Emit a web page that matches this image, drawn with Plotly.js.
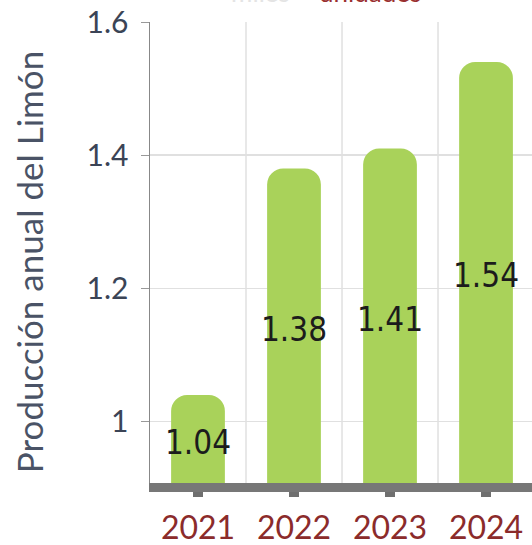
<!DOCTYPE html>
<html>
<head>
<meta charset="utf-8">
<script src="https://cdn.plot.ly/plotly-3.0.1.min.js"></script>
<style>
html,body{margin:0;padding:0;overflow:hidden;background:#fff;}
#chart{width:532px;height:545px;}
</style>
</head>
<body>
<div id="chart"></div>
<script>
const years = ['2021', '2022', '2023', '2024'];
const production = [1.04, 1.38, 1.41, 1.54];
const yTickVals = [1, 1.2, 1.4, 1.6];
const yTickText = ['1', '1.2', '1.4', '1.6'];
const yRange = [0.908, 1.6];
const labelBase = 0.888;
const yTitle = 'Producción anual del Limón';
const unitLabel = 'unidades';
const unitPrefix = 'miles';

const labels = production.map(v => v.toFixed(2));
const labelY = production.map(v => (labelBase + v) / 2);

const barTrace = {
  type: 'bar',
  x: years,
  y: production,
  marker: {color: '#a9d25a', cornerradius: 16, line: {width: 0}},
  width: 0.56,
  hoverinfo: 'skip'
};

const labelTrace = {
  type: 'scatter',
  mode: 'text',
  x: years,
  y: labelY,
  text: labels,
  textposition: 'middle center',
  textfont: {family: '"DejaVu Sans Condensed", "Liberation Sans", sans-serif', size: 33, color: '#1c1c1c'},
  hoverinfo: 'skip',
  cliponaxis: false
};

const gridShapes = years.map((_, i) => ({
  type: 'line', xref: 'x', yref: 'paper',
  x0: i + 0.5, x1: i + 0.5, y0: 0, y1: 1,
  line: {color: '#e0e0e0', width: 1.5},
  layer: 'below'
}));

const layout = {
  width: 532,
  height: 545,
  margin: {l: 150, r: 0, t: 22, b: 62},
  paper_bgcolor: '#ffffff',
  plot_bgcolor: '#ffffff',
  showlegend: false,
  xaxis: {
    type: 'category',
    range: [-0.5, 3.479],
    showgrid: false,
    zeroline: false,
    showline: true,
    linecolor: '#777777',
    linewidth: 9,
    ticks: 'outside',
    ticklen: 5,
    tickwidth: 10,
    tickcolor: '#6f6f6f',
    tickfont: {family: 'Lato, sans-serif', size: 32, color: '#8b2b2b'},
    ticklabelstandoff: 4
  },
  yaxis: {
    range: yRange,
    tickvals: yTickVals,
    ticktext: yTickText,
    showgrid: true,
    gridcolor: '#e0e0e0',
    gridwidth: 1.5,
    zeroline: false,
    showline: true,
    linecolor: '#888888',
    linewidth: 1.5,
    ticks: 'outside',
    ticklen: 8,
    tickwidth: 1,
    tickcolor: '#999999',
    tickfont: {family: 'Lato, sans-serif', size: 30, color: '#3b4456'},
    ticklabelstandoff: 6
  },
  shapes: gridShapes,
  annotations: [
    {text: yTitle, xref: 'paper', yref: 'paper', x: -0.318, y: 0.478, xanchor: 'center', yanchor: 'middle',
     textangle: -90, showarrow: false, font: {family: 'Lato, sans-serif', size: 35, color: '#4a5366'}},
    {text: unitLabel, xref: 'paper', yref: 'paper', x: 0.575, y: 1.066, xanchor: 'center', yanchor: 'middle',
     showarrow: false, font: {family: 'Lato, sans-serif', size: 26, color: '#9a3030'}},
    {text: unitPrefix, xref: 'paper', yref: 'paper', x: 0.29, y: 1.066, xanchor: 'center', yanchor: 'middle',
     showarrow: false, font: {family: 'Lato, sans-serif', size: 26, color: '#e4e4e4'}}
  ]
};

Plotly.newPlot('chart', [barTrace, labelTrace], layout, {staticPlot: true, displayModeBar: false});
</script>
</body>
</html>
